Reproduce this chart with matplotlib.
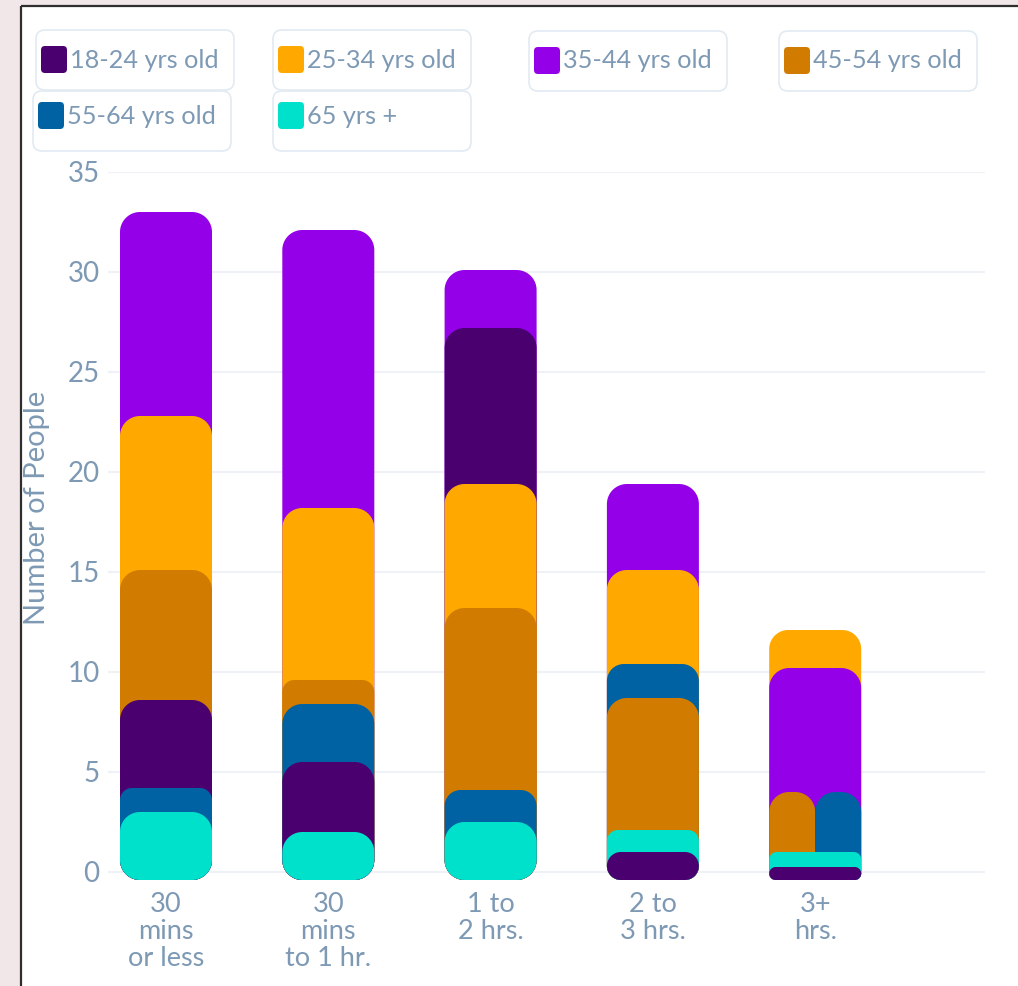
import numpy as np
import matplotlib
matplotlib.use("Agg")
import matplotlib.pyplot as plt
from matplotlib.path import Path
from matplotlib.patches import PathPatch, FancyBboxPatch, Rectangle

# ---- data -------------------------------------------------------------
categories = ["30\nmins\nor less", "30\nmins\nto 1 hr.", "1 to\n2 hrs.",
              "2 to\n3 hrs.", "3+\nhrs."]
groups = ["18-24 yrs old", "25-34 yrs old", "35-44 yrs old",
          "45-54 yrs old", "55-64 yrs old", "65 yrs +"]

age_18_24 = [4.4, 3.5, 7.8, 1.0, 0.25]
age_25_34 = [7.7, 8.6, 6.2, 4.7, 1.9]
age_35_44 = [10.2, 13.9, 2.9, 4.3, 6.2]
age_45_54 = [6.5, 1.2, 9.1, 6.6, 3.0]
age_55_64 = [1.2, 2.9, 1.6, 1.7, 3.0]
age_65_up = [3.0, 2.0, 2.5, 1.1, 0.75]
series = [age_18_24, age_25_34, age_35_44, age_45_54, age_55_64, age_65_up]

# stacking order per category, bottom to top (indices into groups);
# a level holding two groups is split side by side
stack_order = [
    [[5], [4], [0], [3], [1], [2]],
    [[5], [0], [4], [3], [1], [2]],
    [[5], [4], [3], [1], [0], [2]],
    [[0], [5], [3], [4], [1], [2]],
    [[0], [5], [3, 4], [2], [1]],
]

yticks = [0, 5, 10, 15, 20, 25, 30, 35]

# ---- style ------------------------------------------------------------
colors = ["#4a006f", "#ffa900", "#9400e8", "#d17c00", "#0062a2", "#00e1cb"]
text_col = "#7d99b4"
grid_col = "#eef2f6"
font = "Lato"

W, H = 1018, 986
fig = plt.figure(figsize=(W / 100, H / 100), dpi=100)
fig.patch.set_facecolor("white")

# full-figure overlay in pixel coordinates for frame and legend
ov = fig.add_axes([0, 0, 1, 1])
ov.set_xlim(0, W)
ov.set_ylim(H, 0)
ov.axis("off")
ov.set_zorder(0)

# textured margin and frame line
ov.add_patch(Rectangle((0, 0), 21, H, facecolor="#f1e6e8", edgecolor="none"))
ov.add_patch(Rectangle((0, 0), W, 6, facecolor="#f1e6e8", edgecolor="none"))
ov.plot([21, 21], [6, H], color="#2e2e2e", lw=1.6, solid_capstyle="butt")
ov.plot([21, W], [6, 6], color="#2e2e2e", lw=1.6, solid_capstyle="butt")

# legend boxes: (box x, box y, swatch offset from box top)
legend_boxes = [(36, 30, 16), (273, 30, 16), (529, 31, 16), (779, 31, 16),
                (33, 91, 11), (273, 91, 11)]
for k, (bx, by, so) in enumerate(legend_boxes):
    ov.add_patch(FancyBboxPatch((bx, by), 198, 60,
                                boxstyle="round,pad=0,rounding_size=9",
                                facecolor="white", edgecolor="#e2eaf2", lw=1.2))
    ov.add_patch(FancyBboxPatch((bx + 5, by + so), 26, 27,
                                boxstyle="round,pad=0,rounding_size=4",
                                facecolor=colors[k], edgecolor="none"))
    ov.text(bx + 34, by + so + 12, groups[k], color=text_col, fontsize=18.2,
            family=font, ha="left", va="center_baseline")

# main axes
left, right, top, bottom = 108, 985, 172, 884
ax = fig.add_axes([left / W, 1 - bottom / H, (right - left) / W, (bottom - top) / H])
ax.set_zorder(2)
ax.patch.set_visible(False)

x_per_px = 162.3
x0_px_center = 166
xlim = ((left - x0_px_center) / x_per_px, (right - x0_px_center) / x_per_px)
ylim = (-0.6, 35)
ax.set_xlim(*xlim)
ax.set_ylim(*ylim)

ppx = (right - left) / (xlim[1] - xlim[0])
ppy = (bottom - top) / (ylim[1] - ylim[0])

for s in ax.spines.values():
    s.set_visible(False)
ax.set_yticks(yticks)
ax.set_yticklabels([str(t) for t in yticks], family=font, fontsize=20, color=text_col)
ax.tick_params(axis="y", length=0, pad=6)
ax.set_xticks(range(len(categories)))
ax.set_xticklabels(categories, family=font, fontsize=19.5, color=text_col,
                   linespacing=1.1)
ax.tick_params(axis="x", length=0, pad=6)
ax.grid(axis="y", color=grid_col, lw=1.5)
ax.grid(axis="x", visible=False)
ax.set_axisbelow(True)
ax.set_ylabel("Number of People", family=font, fontsize=21, color=text_col)
ax.yaxis.set_label_coords((50 - left) / (right - left), (bottom - 508) / (bottom - top))


def rounded_bar(x0, x1, y0, y1, rt, rb):
    w_px = (x1 - x0) * ppx
    h_px = (y1 - y0) * ppy
    rt = min(rt, w_px / 2, h_px / 2)
    rb = min(rb, w_px / 2, h_px / 2)

    def arc(cx, cy, r, a0, a1):
        t = np.linspace(a0, a1, 18)
        return [(cx + r / ppx * np.cos(a), cy + r / ppy * np.sin(a)) for a in t]

    verts = []
    verts += arc(x0 + rb / ppx, y0 + rb / ppy, rb, np.pi, 1.5 * np.pi)
    verts += arc(x1 - rb / ppx, y0 + rb / ppy, rb, 1.5 * np.pi, 2 * np.pi)
    verts += arc(x1 - rt / ppx, y1 - rt / ppy, rt, 0, 0.5 * np.pi)
    verts += arc(x0 + rt / ppx, y1 - rt / ppy, rt, 0.5 * np.pi, np.pi)
    verts.append(verts[0])
    codes = [Path.MOVETO] + [Path.LINETO] * (len(verts) - 2) + [Path.CLOSEPOLY]
    return Path(verts, codes)


bar_w = 92 / ppx
base = -0.4
R = 20  # corner radius in pixels

for i, levels in enumerate(stack_order):
    shapes = []
    cum = 0.0
    bottom_r = None
    for lev_idx, lev in enumerate(levels):
        n = len(lev)
        level_top = cum
        for j, g in enumerate(lev):
            v = series[g][i]
            t = cum + v
            seg_px = (t - (base if lev_idx == 0 else cum)) * ppy
            xa = i - bar_w / 2 + j * bar_w / n
            xb = xa + bar_w / n
            r = min(R, seg_px / 2, (xb - xa) * ppx / 2)
            if lev_idx == 0 and bottom_r is None:
                bottom_r = r
            shapes.append((t, xa, xb, r, g))
            level_top = max(level_top, t)
        cum = level_top
    shapes.sort(key=lambda s: -s[0])
    for z, (t, xa, xb, r, g) in enumerate(shapes):
        p = rounded_bar(xa, xb, base, t, r, bottom_r)
        ax.add_patch(PathPatch(p, facecolor=colors[g], edgecolor="none",
                               zorder=3 + z * 0.01, clip_on=False))

fig.savefig("out.png", dpi=100, facecolor="white")
